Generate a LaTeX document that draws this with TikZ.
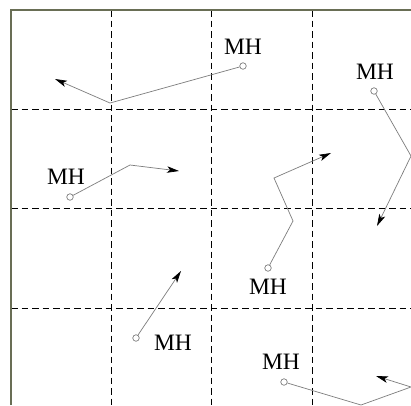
\documentclass[tikz,border=0pt]{standalone}
\usepackage{fontspec}
\setmainfont{Liberation Serif}
\usetikzlibrary{arrows.meta}
\definecolor{framecol}{RGB}{105,110,85}
\definecolor{pathcol}{RGB}{125,125,125}
\tikzset{
  gridline/.style={black, line width=0.9pt, dash pattern=on 6.5pt off 4pt},
  frameline/.style={framecol, line width=1.2pt},
  track/.style={pathcol, line width=0.7pt},
  trackarrow/.style={track, -{Stealth[length=12pt,width=6.5pt,inset=3pt,black]}},
  mh/.style={circle, draw=pathcol, line width=0.7pt, fill=white, minimum size=6.5pt, inner sep=0pt},
  lbl/.style={font=\fontsize{23.5}{23.5}\selectfont, inner sep=0pt, text=black}
}
\begin{document}
\begin{tikzpicture}[x=1pt,y=-1pt]
\clip (0,0) rectangle (411,405);
\fill[white] (0,0) rectangle (411,405);
% grid
\foreach \gx in {111,211,312} \draw[gridline] (\gx,10) -- (\gx,405);
\foreach \gy in {109,208,308} \draw[gridline] (11,\gy) -- (411,\gy);
\draw[frameline] (11,405) -- (11,10) -- (411,10);
% MH 1
\node[mh] (m1) at (243,66) {};
\node[lbl] (t1) at (243,47) {MH};
\coordinate (v1) at (110,103);
\coordinate (e1) at (55,79);
\draw[trackarrow] (m1) -- (v1) -- (e1);
% MH 2
\node[mh] (m2) at (70,197) {};
\node[lbl] (t2) at (66,177) {MH};
\coordinate (v2) at (130,165);
\coordinate (e2) at (179,171);
\draw[trackarrow] (m2) -- (v2) -- (e2);
% MH 3
\node[mh] (m3) at (374,91) {};
\node[lbl] (t3) at (375,72) {MH};
\coordinate (v3) at (411,156);
\coordinate (e3) at (377,226);
\draw[trackarrow] (m3) -- (v3) -- (e3);
% MH 4
\node[mh] (m4) at (268,268) {};
\node[lbl] (t4) at (268,287) {MH};
\coordinate (v4a) at (293,221);
\coordinate (v4b) at (274,178);
\coordinate (e4) at (331,153);
\draw[trackarrow] (m4) -- (v4a) -- (v4b) -- (e4);
% MH 5
\node[mh] (m5) at (136,338) {};
\node[lbl] (t5) at (173,343) {MH};
\coordinate (e5) at (181,271);
\draw[trackarrow] (m5) -- (e5);
% MH 6
\node[mh] (m6) at (284,382) {};
\node[lbl] (t6) at (281,362) {MH};
\coordinate (v6a) at (361,405);
\coordinate (v6b) at (411,387);
\coordinate (e6) at (376,376);
\draw[trackarrow] (m6) -- (v6a) -- (v6b) -- (e6);
\end{tikzpicture}
\end{document}
